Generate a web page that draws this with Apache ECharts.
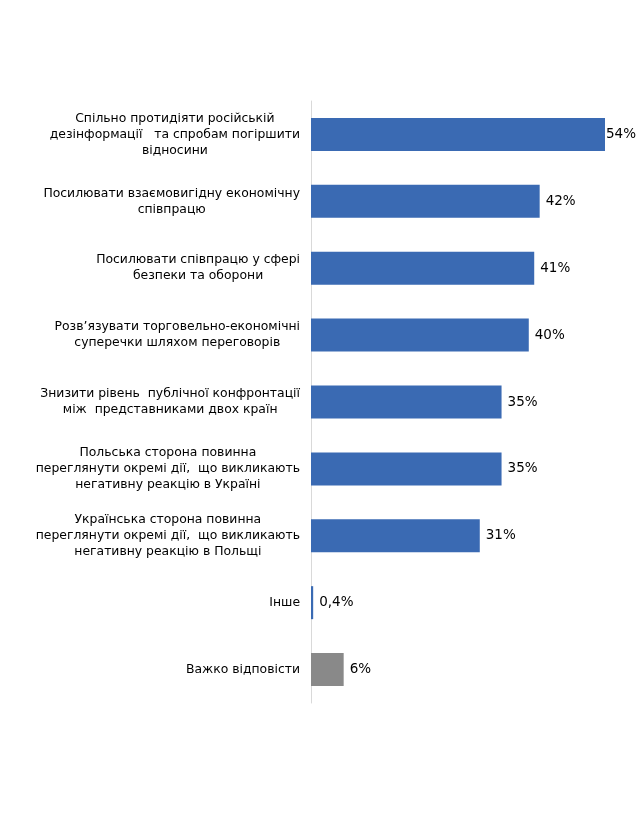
<!DOCTYPE html>
<html>
<head>
<meta charset="utf-8">
<script src="https://cdn.jsdelivr.net/npm/echarts@6/dist/echarts.min.js"></script>
<style>
html,body{margin:0;padding:0;background:#fff;}
#chart{width:643px;height:832px;}
</style>
</head>
<body>
<div id="chart"></div>
<script>
const categories = [
  "Спільно протидіяти російській\nдезінформації   та спробам погіршити\nвідносини",
  "Посилювати взаємовигідну економічну\nспівпрацю",
  "Посилювати співпрацю у сфері\nбезпеки та оборони",
  "Розв’язувати торговельно-економічні\nсуперечки шляхом переговорів",
  "Знизити рівень  публічної конфронтації\nміж  представниками двох країн",
  "Польська сторона повинна\nпереглянути окремі дії,  що викликають\nнегативну реакцію в Україні",
  "Українська сторона повинна\nпереглянути окремі дії,  що викликають\nнегативну реакцію в Польщі",
  "Інше",
  "Важко відповісти"
];
const values = [54, 42, 41, 40, 35, 35, 31, 0.4, 6];
const valueLabels = ["54%", "42%", "41%", "40%", "35%", "35%", "31%", "0,4%", "6%"];
const barColors = ["#3A6AB3","#3A6AB3","#3A6AB3","#3A6AB3","#3A6AB3","#3A6AB3","#3A6AB3","#3A6AB3","#898989"];

const chart = echarts.init(document.getElementById('chart'), null, {renderer: 'canvas'});
const FONT = "DejaVu Sans";
chart.setOption({
  animation: false,
  backgroundColor: '#ffffff',
  grid: {left: 311, right: 38, top: 101, bottom: 129, containLabel: false},
  xAxis: {
    type: 'value', min: 0, max: 54,
    show: false
  },
  yAxis: {
    type: 'category',
    inverse: true,
    data: categories,
    axisLine: {show: true, lineStyle: {color: '#D9D9D9', width: 1}},
    axisTick: {show: false},
    splitLine: {show: false},
    axisLabel: {
      margin: 11,
      color: '#000000',
      fontFamily: FONT,
      fontSize: 12.4,
      lineHeight: 16,
      formatter: function (v) {
        return v.split('\n').map(function (l) { return '{c|' + l + '}'; }).join('\n');
      },
      rich: {
        c: {align: 'center', fontFamily: FONT, fontSize: 12.4, lineHeight: 16, color: '#000000'}
      }
    }
  },
  series: [{
    type: 'bar',
    barWidth: 33,
    data: values.map(function (v, i) {
      return {
        value: v,
        itemStyle: {color: barColors[i]},
        label: {distance: i === 0 ? 1 : 6}
      };
    }),
    label: {
      show: true,
      position: 'right',
      color: '#000000',
      fontFamily: FONT,
      fontSize: 13.5,
      formatter: function (p) { return valueLabels[p.dataIndex]; }
    }
  }]
});
</script>
</body>
</html>
